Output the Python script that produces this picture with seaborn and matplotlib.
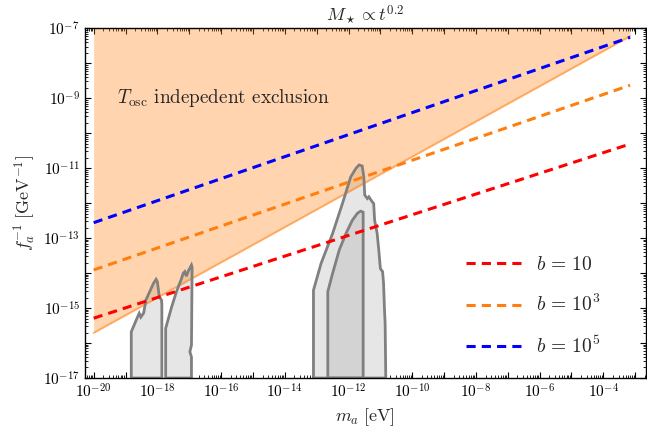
import numpy as np
import pandas as pd
import matplotlib
matplotlib.use("Agg")
import matplotlib.pyplot as plt
import matplotlib.ticker as mticker
import seaborn as sns

# all values in log10
# dashed lines b = 10, 10^3, 10^5 (endpoints)
line_x = [-20.0, -3.16]
red_y = [-15.29, -10.31]
orange_y = [-13.91, -8.63]
blue_y = [-12.56, -7.26]
labels = [r"$b\,=\,10$", r"$b\,=\,10^3$", r"$b\,=\,10^5$"]

# T_osc independent exclusion (lower edge)
excl_x = [-20.0, -3.16]
excl_y = [-15.71, -7.23]

# gray regions
reg1_x = [-18.82, -18.82, -18.62, -18.57, -18.52, -18.43, -18.36, -18.22, -18.12, -18.04, -18.0, -17.94, -17.87, -17.86, -17.86]
reg1_y = [-17, -15.68, -15.25, -15.15, -15.26, -15.14, -14.77, -14.49, -14.29, -14.18, -14.25, -14.68, -14.77, -14.91, -17]
reg2_x = [-17.74, -17.74, -17.55, -17.40, -17.24, -17.19, -17.14, -17.09, -17.04, -16.93, -16.91, -16.93, -16.98, -16.93, -16.93]
reg2_y = [-17, -15.58, -14.96, -14.53, -14.15, -14.01, -13.96, -14.09, -13.96, -13.77, -13.83, -16.06, -16.25, -16.4, -17]
reg3_x = [-13.10, -13.10, -12.86, -12.50, -12.19, -11.93, -11.77, -11.67, -11.57, -11.52, -11.49, -11.41, -11.36,
          -11.26, -11.21, -11.18, -11.10, -11.05, -11.00, -10.93, -10.90, -10.87, -10.85, -10.83]
reg3_y = [-17, -14.49, -13.72, -12.87, -12.01, -11.25, -11.01, -10.91, -10.94, -11.25, -11.77, -11.87, -11.82,
          -11.96, -12.01, -12.49, -12.87, -13.34, -13.87, -13.96, -14.29, -15.06, -15.44, -17]
reg4_x = [-12.65, -12.65, -12.50, -12.29, -12.08, -11.88, -11.72, -11.62, -11.54, -11.54]
reg4_y = [-17, -14.53, -14.01, -13.34, -12.87, -12.49, -12.29, -12.23, -12.26, -17]

sns.set_style("ticks")
plt.rcParams["font.family"] = "serif"
plt.rcParams["font.serif"] = ["cmr10", "DejaVu Serif"]
plt.rcParams["mathtext.fontset"] = "cm"
plt.rcParams["axes.formatter.use_mathtext"] = True

fig = plt.figure(figsize=(6.47, 4.34), dpi=100)
ax = fig.add_axes([0.131, 0.129, 0.867, 0.806])
ax.set_xscale("log")
ax.set_yscale("log")

edge = "#808080"
for xs, ys, fc in [(reg1_x, reg1_y, "#e6e6e6"), (reg2_x, reg2_y, "#e6e6e6"),
                   (reg3_x, reg3_y, "#e6e6e6"), (reg4_x, reg4_y, "#d3d3d3")]:
    px, py = 10 ** np.array(xs), 10 ** np.array(ys)
    ax.fill(px, py, facecolor=fc, edgecolor="none", zorder=1)
    ax.fill(px, py, facecolor="none", edgecolor=edge, lw=2, zorder=2.5)

ex = np.logspace(excl_x[0], excl_x[1], 50)
ey = 10 ** np.interp(np.log10(ex), excl_x, excl_y)
ax.fill_between(ex, ey, 1e-7, color="#ff7f0e", alpha=0.33, lw=0, zorder=2)
ax.plot(ex, ey, color="#ff7f0e", alpha=0.5, lw=1.5, zorder=2)

colors = ["#ff0000", "#ff7f0e", "#0000ff"]
for ys, c, lab in zip([red_y, orange_y, blue_y], colors, labels):
    df = pd.DataFrame({"x": 10 ** np.array(line_x), "y": 10 ** np.array(ys)})
    sns.lineplot(data=df, x="x", y="y", color=c, lw=2.2, ax=ax, label=lab, zorder=3)
for l in ax.get_lines()[-3:]:
    l.set_linestyle((0, (3, 2)))

ax.text(10 ** -19.27, 1e-9, r"$T_{\rm osc}$ indepedent exclusion", fontsize=13.8, va="center")

ax.set_xlim(10 ** -20.28, 10 ** -2.67)
ax.set_ylim(1e-17, 1e-7)

ax.xaxis.set_major_locator(mticker.LogLocator(base=10, numticks=40))
ax.yaxis.set_major_locator(mticker.LogLocator(base=10, numticks=40))
ax.xaxis.set_minor_locator(mticker.LogLocator(base=10, subs=np.arange(2, 10), numticks=40))
ax.yaxis.set_minor_locator(mticker.LogLocator(base=10, subs=np.arange(2, 10), numticks=40))

def fmt(v, pos):
    e = int(round(np.log10(v)))
    return r"$10^{%d}$" % e if e % 2 == 0 else ""

def fmty(v, pos):
    e = int(round(np.log10(v)))
    return r"$10^{%d}$" % e if e % 2 != 0 else ""

ax.xaxis.set_major_formatter(mticker.FuncFormatter(fmt))
ax.yaxis.set_major_formatter(mticker.FuncFormatter(fmty))
ax.xaxis.set_minor_formatter(mticker.NullFormatter())
ax.yaxis.set_minor_formatter(mticker.NullFormatter())
ax.tick_params(which="both", direction="in", top=True, right=True, labelsize=11, colors="black")
ax.tick_params(which="major", length=4, width=0.8)
ax.tick_params(which="minor", length=2.2, width=0.6)
for s in ax.spines.values():
    s.set_linewidth(1.0)
    s.set_color("black")

ax.set_xlabel(r"$m_a\;[\mathrm{eV}]$", fontsize=13)
ax.set_ylabel(r"$f_a^{-1}\;[\mathrm{GeV}^{-1}]$", fontsize=13)
ax.set_title(r"$M_\star \propto t^{0.2}$", fontsize=13, pad=5)

ax.legend(loc="lower right", frameon=False, fontsize=14, handlelength=3.0,
          handletextpad=0.6, labelspacing=1.05, bbox_to_anchor=(0.95, 0.01))

fig.savefig("out.png", dpi=100)
